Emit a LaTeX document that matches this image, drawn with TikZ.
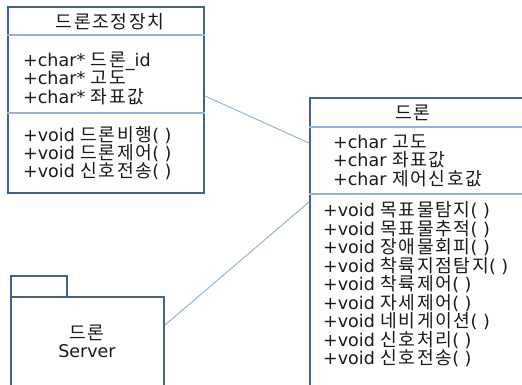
\documentclass[tikz,border=0pt]{standalone}
\usepackage{fontspec}
\setmainfont{DejaVu Sans}
\newfontfamily\kr[Scale=1.04,LetterSpace=9]{Noto Sans CJK KR}
\definecolor{boxc}{HTML}{44608E}
\definecolor{divc}{HTML}{95B3D7}
\definecolor{connc}{HTML}{95B3D7}
\definecolor{txtc}{HTML}{1A1A1A}
\begin{document}
\begin{tikzpicture}[x=1pt,y=-1pt,
  boxline/.style={draw=boxc, line width=2pt, fill=white, inner sep=0pt, anchor=north west},
  divline/.style={draw=divc, line width=1.4pt},
  conn/.style={draw=connc, line width=1pt},
  txt/.style={anchor=base west, inner sep=0pt, font=\fontsize{17.5}{18}\selectfont, text=txtc},
  ttl/.style={anchor=base, inner sep=0pt, font=\fontsize{17.5}{18}\selectfont, text=txtc}]
\useasboundingbox (0,0) rectangle (522,384);
\clip (0,0) rectangle (522,384);
% boxes
\node[boxline, minimum width=196pt, minimum height=186pt] (ctrl) at (7,6) {};
\node[boxline, minimum width=240pt, minimum height=300pt] (drone) at (309,97) {};
\node[boxline, minimum width=56pt, minimum height=21pt] (tab) at (10,275) {};
\node[boxline, minimum width=153pt, minimum height=110pt] (srv) at (10,296) {};
% dividers
\draw[divline] (ctrl.west |- 0,35) -- (ctrl.east |- 0,35);
\draw[divline] (ctrl.west |- 0,113) -- (ctrl.east |- 0,113);
\draw[divline] (drone.west |- 0,127) -- (drone.east |- 0,127);
\draw[divline] (drone.west |- 0,194) -- (drone.east |- 0,194);
% connectors
\draw[conn] ([yshift=4pt]ctrl.east) -- ([yshift=-46pt]drone.north west);
\draw[conn] ([yshift=-29pt]srv.north east) -- ([yshift=-105pt]drone.north west);
% control box text
\node[ttl] (ct) at (110,28) {\kr 드론조정장치};
\node[txt] (ca1) at (23,66.5) {+char* {\kr 드론}\_id};
\node[txt] (ca2) at (23,84.5) {+char* {\kr 고도}};
\node[txt] (ca3) at (23,103.5) {+char* {\kr 좌표값}};
\node[txt] (cm1) at (23,141.5) {+void {\kr 드론비행}( )};
\node[txt] (cm2) at (23,159.5) {+void {\kr 드론제어}( )};
\node[txt] (cm3) at (23,177.5) {+void {\kr 신호전송}( )};
% drone box text
\node[ttl] (dt) at (413,119) {\kr 드론};
\node[txt] (da1) at (333,148.5) {+char {\kr 고도}};
\node[txt] (da2) at (333,166.5) {+char {\kr 좌표값}};
\node[txt] (da3) at (333,185.5) {+char {\kr 제어신호값}};
\node[txt] (dm1) at (323,216.5) {+void {\kr 목표물탐지}( )};
\node[txt] (dm2) at (323,235) {+void {\kr 목표물추적}( )};
\node[txt] (dm3) at (323,253.5) {+void {\kr 장애물회피}( )};
\node[txt] (dm4) at (323,272) {+void {\kr 착륙지점탐지}( )};
\node[txt] (dm5) at (323,290.5) {+void {\kr 착륙제어}( )};
\node[txt] (dm6) at (323,309) {+void {\kr 자세제어}( )};
\node[txt] (dm7) at (323,327.5) {+void {\kr 네비게이션}( )};
\node[txt] (dm8) at (323,346) {+void {\kr 신호처리}( )};
\node[txt] (dm9) at (323,364.5) {+void {\kr 신호전송}( )};
% server text
\node[ttl] (s1) at (87,339) {\kr 드론};
\node[ttl] (s2) at (87,357) {Server};
\end{tikzpicture}
\end{document}
